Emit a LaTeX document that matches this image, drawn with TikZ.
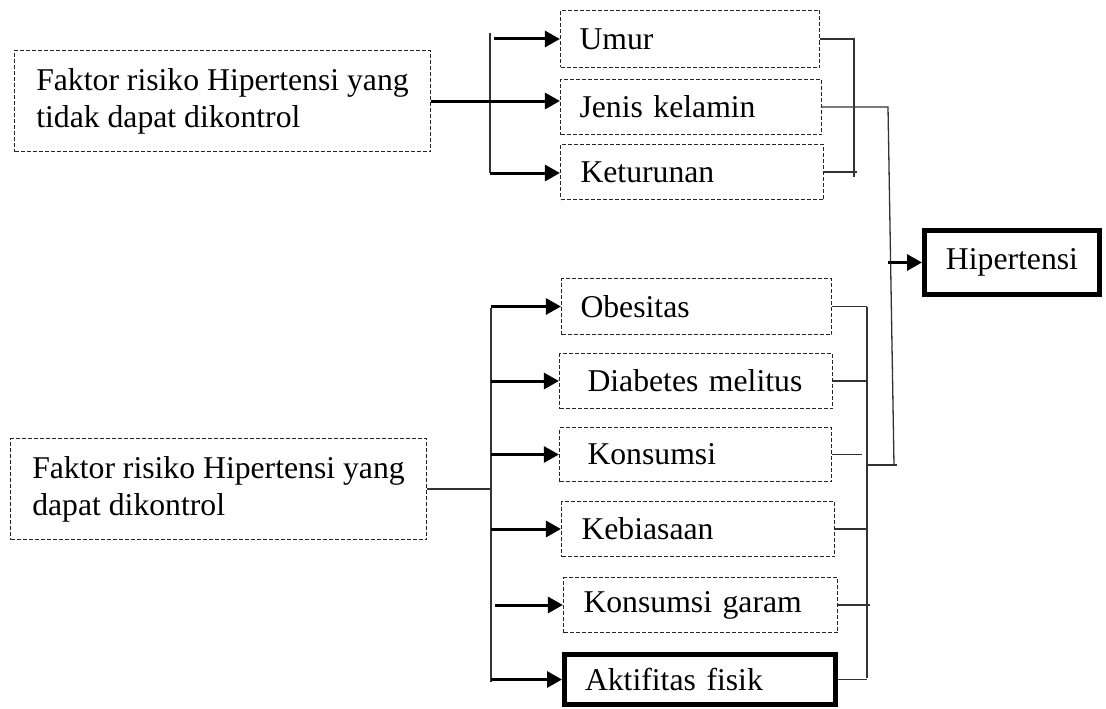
\documentclass[tikz,border=0pt]{standalone}
\usepackage{fontspec}
\setmainfont{Liberation Serif}
\usetikzlibrary{arrows.meta}

\begin{document}
\begin{tikzpicture}[x=1pt,y=-1pt,
    every node/.style={font=\fontsize{31.7}{37}\selectfont},
    kotak/.style={draw=black!85,line width=1.2pt,dash pattern=on 4pt off 2pt,align=left,inner ysep=0pt},
    tebal/.style={draw=black,line width=5pt,inner ysep=0pt},
    panah/.style={line width=3pt,-{Triangle[length=15pt,width=16pt]}},
    garis/.style={line width=1.3pt,black!80}]
\useasboundingbox (0,0) rectangle (1106,709);

% faktor yang tidak dapat dikontrol
\node[kotak,minimum width=416pt,minimum height=101pt] (tdk) at (222.5,101) {Faktor risiko Hipertensi yang\\tidak dapat dikontrol};
\node[kotak,minimum width=259pt,minimum height=57pt,text width=221pt,inner xsep=19pt] (umur) at (690,39) {Umur};
\node[kotak,minimum width=261pt,minimum height=55pt,text width=223pt,inner xsep=19pt] (jenis) at (691,107) {Jenis kelamin};
\node[kotak,minimum width=263pt,minimum height=55pt,text width=223pt,inner xsep=20pt] (ketur) at (692,172) {Keturunan};

% faktor yang dapat dikontrol
\node[kotak,minimum width=416pt,minimum height=101pt] (dpt) at (218.5,489) {Faktor risiko Hipertensi yang\\dapat dikontrol};
\node[kotak,minimum width=270pt,minimum height=56pt,text width=232pt,inner xsep=19pt] (obes) at (696.5,306.5) {Obesitas};
\node[kotak,minimum width=273pt,minimum height=55pt,text width=217pt,inner xsep=28pt] (diab) at (696,381) {Diabetes melitus};
\node[kotak,minimum width=272pt,minimum height=54pt,text width=216pt,inner xsep=28pt] (kons) at (695.5,454.5) {Konsumsi};
\node[kotak,minimum width=273pt,minimum height=55pt,text width=233pt,inner xsep=20pt] (kebi) at (698,529) {Kebiasaan};
\node[kotak,minimum width=274pt,minimum height=55pt,text width=234pt,inner xsep=20pt] (garam) at (700.5,605) {Konsumsi garam};
\node[tebal,minimum width=271pt,minimum height=50pt,text width=230pt,inner xsep=20.5pt,align=left] (akti) at (700,679.5) {Aktifitas fisik};

\node[tebal,minimum width=175pt,minimum height=64pt] (hiper) at (1012,262.5) {Hipertensi};

% cabang atas
\coordinate (a1) at (490,33);
\coordinate (a2) at (490,173);
\draw[garis] (a1) -- (a2);
\draw[panah] ([xshift=4pt]a1 |- umur.west) -- (umur.west);
\draw[panah] (tdk.east) -- (tdk.east -| jenis.west);
\draw[panah] (a2) -- (a2 -| ketur.west);

\coordinate (b1) at (854,38);
\coordinate (b2) at (854,177);
\draw[garis] (b1) -- (b2);
\draw[garis] (umur.east) -- (umur.east -| b1);
\draw[garis] (ketur.east) -- ++(33,0);

\coordinate (c1) at (888,107);
\coordinate (c2) at (894,465);
\draw[garis] (jenis.east) -- (c1) -- (c2);
\draw[panah] (c1 |- hiper.west) -- (hiper.west);

% cabang bawah
\coordinate (e1) at (491,308);
\coordinate (e2) at (491,682);
\draw[garis,line width=1.8pt] (e1) -- (e2);
\draw[garis] (dpt.east) -- (dpt.east -| e1);
\draw[panah] (e1 |- obes.west) -- (obes.west);
\draw[panah] (e1 |- diab.west) -- (diab.west);
\draw[panah] (e1 |- kons.west) -- (kons.west);
\draw[panah] (e1 |- kebi.west) -- (kebi.west);
\draw[panah] ([xshift=4pt]e1 |- garam.west) -- (garam.west);
\draw[panah] (e1 |- akti.west) -- (akti.west);

\coordinate (d1) at (867,307);
\coordinate (d2) at (867,678);
\draw[garis,line width=1.6pt] (d1) -- (d2);
\draw[garis] (obes.east) -- (obes.east -| d1);
\draw[garis] (diab.east) -- (diab.east -| d1);
\draw[garis] (kons.east) -- ++(30,0);
\draw[garis] (kebi.east) -- (kebi.east -| d1);
\draw[garis] (garam.east) -- ++(32,0);
\draw[garis] (akti.east) -- (akti.east -| d1);
\draw[garis] (d1 |- c2) -- ([xshift=3pt]c2);

\end{tikzpicture}
\end{document}
